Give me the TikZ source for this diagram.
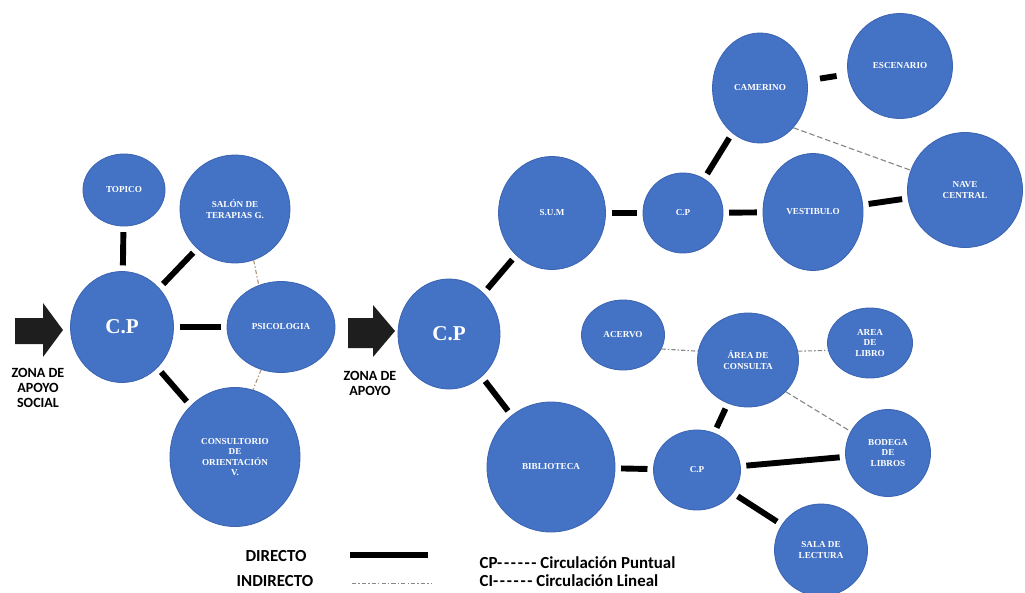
\documentclass[tikz,border=0pt]{standalone}
\usepackage{fontspec}
\setmainfont{Liberation Serif}
\newfontfamily\labelfont{Carlito}
\usetikzlibrary{shapes.geometric}
\definecolor{roomblue}{RGB}{68,114,196}
\definecolor{roomedge}{RGB}{60,100,178}
\definecolor{linkgray}{RGB}{135,135,135}
\definecolor{linktan}{RGB}{175,150,115}
\definecolor{arrowdark}{RGB}{30,30,30}
\newcommand{\legdash}{-\kern1.2pt-\kern1.2pt-\kern1.2pt-\kern1.2pt-\kern1.2pt-}
\tikzset{
	room/.style 2 args={ellipse, draw=roomedge, fill=roomblue, line width=0.6pt,
		minimum width=#1*0.025cm, minimum height=#2*0.025cm, inner sep=0pt,
		text=white, align=center, font=\bfseries\fontsize{6.5}{7.5}\selectfont},
	bigcp/.style={font=\bfseries\fontsize{15}{18}\selectfont},
	direct/.style={line width=4.2pt, shorten <=4pt, shorten >=4pt},
	indirect/.style={linkgray, line width=0.8pt, dash pattern=on 3pt off 1.5pt on 1pt off 1.5pt},
	zonetext/.style={align=center, font=\labelfont\bfseries\fontsize{10}{10.6}\selectfont},
	legendtext/.style={inner sep=1pt, font=\labelfont\bfseries\fontsize{12}{13}\selectfont}
}
\begin{document}
\begin{tikzpicture}[x=0.025cm, y=-0.025cm]
	\useasboundingbox (0,0) rectangle (1025,592);
	% zona de apoyo social
	\fill [arrowdark] (15,318) -- (43,318) -- (43,303) -- (63,330) -- (43,357) -- (43,344) -- (15,344) -- cycle;
	\node [zonetext] (zonasocial) at (38,388) {ZONA DE\\APOYO\\SOCIAL};
	\node [room={103}{111}, bigcp] (cpsocial) at (122,327) {C.P};
	\node [room={82}{72}] (topico) at (124,190) {TOPICO};
	\node [room={110}{108}] (salon) at (235,209) {SALÓN DE\\TERAPIAS G.};
	\node [room={108}{91}] (psico) at (281,327) {PSICOLOGIA};
	\node [room={130}{139}] (consult) at (235,457) {CONSULTORIO\\DE\\ORIENTACIÓN\\V.};
	\draw [direct] (cpsocial) -- (topico);
	\draw [direct] (cpsocial) -- (salon);
	\draw [direct] (cpsocial) -- (psico);
	\draw [direct] (cpsocial) -- (consult);
	\draw [indirect, linktan] (salon.-70) -- (psico.118);
	\draw [indirect, linktan] (psico.-115) -- (consult.75);
	% zona de apoyo
	\fill [arrowdark] (348,318) -- (373,318) -- (373,305) -- (395,331) -- (373,357) -- (373,348) -- (348,348) -- cycle;
	\node [zonetext] (zonaapoyo) at (370,383) {ZONA DE\\APOYO};
	\node [room={102}{110}, bigcp] (cpapoyo) at (449,334) {C.P};
	\node [room={107}{113}] (sum) at (552,213) {S.U.M};
	\node [room={80}{80}] (cpsum) at (683,213) {C.P};
	\node [room={95}{110}] (camerino) at (760,88) {CAMERINO};
	\node [room={105}{105}] (escenario) at (900,66) {ESCENARIO};
	\node [room={100}{117}] (vestibulo) at (813,212) {VESTIBULO};
	\node [room={115}{115}] (nave) at (965,190) {NAVE\\CENTRAL};
	\node [room={128}{130}] (biblio) at (551,467) {BIBLIOTECA};
	\node [room={87}{80}] (cpbiblio) at (697,470) {C.P};
	\node [room={83}{70}] (acervo) at (623,335) {ACERVO};
	\node [room={101}{94}] (consulta) at (748,360) {ÁREA DE\\CONSULTA};
	\node [room={85}{70}] (libro) at (870,343) {AREA\\DE\\LIBRO};
	\node [room={85}{87}] (bodega) at (888,453) {BODEGA\\DE\\LIBROS};
	\node [room={93}{92}] (sala) at (821,550) {SALA DE\\LECTURA};
	\draw [direct] (cpapoyo) -- (sum);
	\draw [direct] (cpapoyo) -- (biblio);
	\draw [direct] (sum) -- (cpsum);
	\draw [direct] (cpsum) -- (camerino);
	\draw [direct] (cpsum) -- (vestibulo);
	\draw [direct] (vestibulo) -- (nave);
	\draw [direct, shorten <=9pt, shorten >=8pt] (camerino) -- (escenario);
	\draw [indirect, dash pattern=on 4pt off 2pt] (camerino.-50) -- (nave.160);
	\draw [direct] (biblio) -- (cpbiblio);
	\draw [direct] (cpbiblio) -- (consulta);
	\draw [direct] (cpbiblio) -- (bodega);
	\draw [direct] (cpbiblio) -- (sala);
	\draw [indirect] (acervo.-20) -- (consulta.170);
	\draw [indirect] (consulta.10) -- (libro.190);
	\draw [indirect, dash pattern=on 4pt off 2pt] (consulta.-40) -- (bodega.150);
	% leyenda
	\node [legendtext] (directo) at (276,556) {DIRECTO};
	\node [legendtext] (indirecto) at (275,581) {INDIRECTO};
	\coordinate (directoa) at (350,555);
	\coordinate (directob) at (428,555);
	\coordinate (indirectoa) at (352,583);
	\coordinate (indirectob) at (432,583);
	\draw [line width=4.2pt] (directoa) -- (directob);
	\draw [indirect, line width=0.6pt] (indirectoa) -- (indirectob);
	\node [legendtext, anchor=west] (puntual) at (478,563) {CP\legdash{} Circulación Puntual};
	\node [legendtext, anchor=west] (lineal) at (478,581) {CI\legdash{} Circulación Lineal};
\end{tikzpicture}
\end{document}
